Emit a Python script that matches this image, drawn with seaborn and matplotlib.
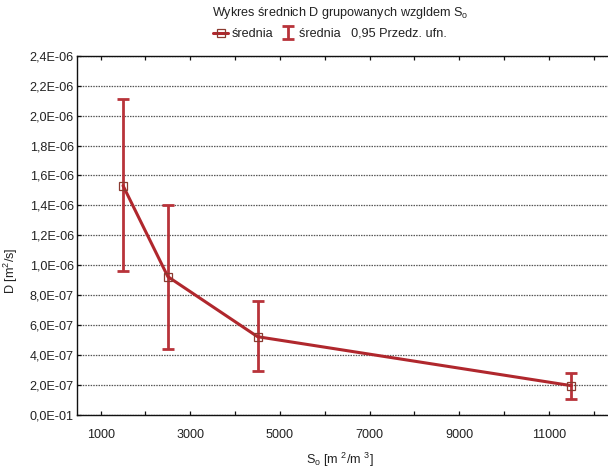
import matplotlib
matplotlib.use("Agg")
import matplotlib.pyplot as plt
from matplotlib.lines import Line2D
import seaborn as sns
import numpy as np
import pandas as pd

# ---- data ----
so_values = [1500, 2500, 4500, 11500]
d_mean = [1.532e-06, 0.924e-06, 0.523e-06, 0.196e-06]
d_upper = [2.109e-06, 1.405e-06, 0.762e-06, 0.283e-06]
d_lower = [0.964e-06, 0.440e-06, 0.294e-06, 0.105e-06]

y_ticks = [0.0, 0.2e-06, 0.4e-06, 0.6e-06, 0.8e-06, 1.0e-06, 1.2e-06,
           1.4e-06, 1.6e-06, 1.8e-06, 2.0e-06, 2.2e-06, 2.4e-06]
y_tick_labels = ["0,0E-01", "2,0E-07", "4,0E-07", "6,0E-07", "8,0E-07",
                 "1,0E-06", "1,2E-06", "1,4E-06", "1,6E-06", "1,8E-06",
                 "2,0E-06", "2,2E-06", "2,4E-06"]
x_major_ticks = [1000, 3000, 5000, 7000, 9000, 11000]
x_minor_ticks = [2000, 4000, 6000, 8000, 10000, 12000]

title = "Wykres średnich D grupowanych wzgldem S$_\\mathregular{o}$"
xlabel = "S$_\\mathregular{o}$ [m $^\\mathregular{2}$/m $^\\mathregular{3}$]"
ylabel = "D [m$^\\mathregular{2}$/s]"
legend_mean = "średnia"
legend_ci = "średnia   0,95 Przedz. ufn."

df = pd.DataFrame({"So": so_values, "D": d_mean})

# ---- style ----
sns.set_style("ticks")
plt.rcParams["font.family"] = ["Liberation Sans", "DejaVu Sans"]
plt.rcParams["mathtext.default"] = "regular"
FS = 9.1
plt.rcParams["font.size"] = FS

LINE = "#b0272d"
EBAR = "#b8333a"
TXT = "#222222"

fig = plt.figure(figsize=(6.08, 4.70), dpi=100)
ax = fig.add_axes([77.3 / 608, 1 - 415 / 470, 1 - 77.3 / 608, (415 - 55.7) / 470])

# error bars (confidence intervals)
yerr = np.array([np.array(d_mean) - np.array(d_lower),
                 np.array(d_upper) - np.array(d_mean)])
eb = ax.errorbar(so_values, d_mean, yerr=yerr, fmt="none", ecolor=EBAR,
                 elinewidth=2.0, capsize=4.5, capthick=2.0, zorder=3)

# mean line
sns.lineplot(data=df, x="So", y="D", ax=ax, color=LINE, linewidth=2.2,
             marker="s", markersize=5.5, markerfacecolor="none",
             markeredgecolor="#8a3a30", markeredgewidth=0.9, zorder=4,
             legend=False)

ax.set_xlim(480, 12316)
ax.set_ylim(0, 2.4e-06)
ax.set_yticks(y_ticks)
ax.set_yticklabels(y_tick_labels)
ax.set_xticks(x_major_ticks)
ax.set_xticklabels([str(v) for v in x_major_ticks])
ax.set_xticks(x_minor_ticks, minor=True)

ax.yaxis.grid(True, linestyle=(0, (1.2, 0.9)), color="#555555", linewidth=0.9)
ax.xaxis.grid(False)
ax.set_axisbelow(True)

for s in ["left", "bottom", "top"]:
    ax.spines[s].set_color("#111111")
    ax.spines[s].set_linewidth(1.0)
ax.spines["right"].set_visible(False)

ax.tick_params(axis="both", which="both", direction="in", length=3,
               width=0.9, colors="#111111", labelcolor=TXT, labelsize=FS)
ax.tick_params(axis="x", which="both", top=True, pad=10)
ax.tick_params(axis="y", which="both", right=False, pad=2.5)

ax.set_xlabel(xlabel, fontsize=FS, color=TXT)
ax.xaxis.set_label_coords((340 - 77.3) / 530.7, -(451 - 415) / 359.3)
ax.set_ylabel(ylabel, fontsize=FS, color=TXT)
ax.yaxis.set_label_coords((20 - 77.3) / 530.7, (415 - 271) / 359.3)

fig.text(340 / 608, 1 - 13 / 470, title, ha="center", va="center",
         fontsize=FS, color=TXT)

h_mean = Line2D([], [], color=LINE, linewidth=2.2, marker="s", markersize=5.5,
                markerfacecolor="none", markeredgecolor="#8a3a30",
                markeredgewidth=0.9)
fig.legend([h_mean, eb], [legend_mean, legend_ci], loc="center",
           bbox_to_anchor=(330 / 608, 1 - 34 / 470), ncol=2, frameon=False,
           fontsize=FS, handlelength=1.2, handletextpad=0.3,
           columnspacing=0.5, labelcolor=TXT)

fig.savefig("out.png", dpi=100)
